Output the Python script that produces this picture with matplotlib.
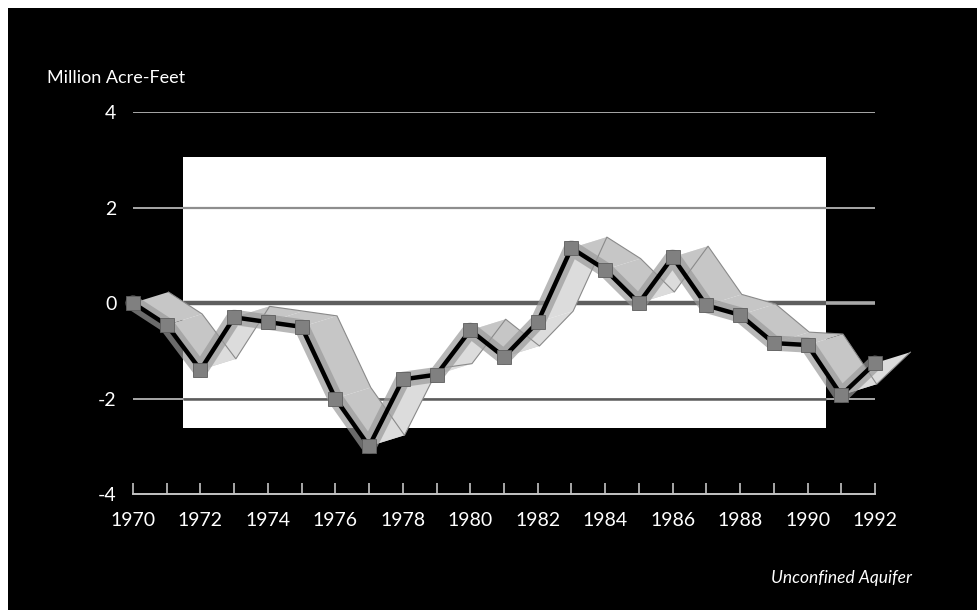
import numpy as np
import matplotlib.pyplot as plt
from matplotlib.patches import Rectangle, Polygon

plt.rcParams['font.family'] = ['Lato', 'DejaVu Sans']
plt.rcParams['axes.unicode_minus'] = False

years = list(range(1970, 1993))
storage = [0.0, -0.46, -1.4, -0.3, -0.4, -0.5, -2.0, -3.0, -1.6, -1.5, -0.57,
           -1.13, -0.4, 1.15, 0.7, 0.0, 0.96, -0.05, -0.25, -0.84, -0.88,
           -1.93, -1.26]
year_labels = [str(y) for y in range(1970, 1993, 2)]
y_levels = [-4, -2, 0, 2, 4]

fig = plt.figure(figsize=(9.77, 6.10), dpi=100, facecolor='white')
# black panel with a thin white margin on the top and left
fig.patches.append(Rectangle((8 / 977, 0), 1, 1 - 8 / 610, transform=fig.transFigure,
                             facecolor='black', edgecolor='none', zorder=-10))

ax = fig.add_axes([133 / 977, 1 - 494 / 610, (875 - 133) / 977, (494 - 112) / 610])
ax.set_facecolor('none')
ax.set_xlim(1970, 1992)
ax.set_ylim(-4, 4)

# white backdrop behind the middle of the chart
x0, x1 = 1971.48, 1990.55
ax.add_patch(Rectangle((x0, -2.62), x1 - x0, 5.68, facecolor='white',
                       edgecolor='none', zorder=0))

# grid: light on black, darker over the white backdrop
for lev in [4, 2, -2]:
    ax.axhline(lev, color='#a8a8a8', lw=1.4, zorder=1)
ax.axhline(0, color='#a8a8a8', lw=2.6, zorder=1)
ax.hlines(2, x0, x1, color='#8e8e8e', lw=1.6, zorder=1.2)
ax.hlines(-2, x0, x1, color='#5c5c5c', lw=1.8, zorder=1.2)
ax.hlines(0, x0, x1, color='#5e5e5e', lw=3.2, zorder=1.2)

# 3D ribbon behind the line
x = np.array(years, dtype=float)
y = np.array(storage)
dx, dy = 1.05, 0.23
for i in range(len(x) - 1):
    quad = [(x[i], y[i]), (x[i + 1], y[i + 1]),
            (x[i + 1] + dx, y[i + 1] + dy), (x[i] + dx, y[i] + dy)]
    shade = '#c6c6c6' if y[i + 1] < y[i] else '#dcdcdc'
    ax.add_patch(Polygon(quad, closed=True, facecolor=shade,
                         edgecolor='none', zorder=2, clip_on=False))
ax.plot(x + dx, y + dy, color='#8a8a8a', lw=0.8, zorder=2.5, clip_on=False)

ax.plot(x, y, color='#9a9a9a', lw=11, alpha=0.7, solid_capstyle='round',
        zorder=3, clip_on=False)
ax.plot(x, y, color='black', lw=3.2, zorder=4, clip_on=False)
ax.plot(x, y, linestyle='none', marker='s', markersize=10.5,
        markerfacecolor='#808080', markeredgecolor='#5e5e5e', markeredgewidth=0.6,
        zorder=5, clip_on=False)

for side in ['left', 'right', 'top']:
    ax.spines[side].set_visible(False)
ax.spines['bottom'].set_color('#c4c4c4')
ax.spines['bottom'].set_linewidth(1.4)

ax.set_xticks(range(1970, 1993, 2))
ax.set_xticklabels(year_labels)
ax.set_xticks(range(1971, 1993, 2), minor=True)
ax.tick_params(axis='x', which='both', direction='in', length=8, width=1.2,
               color='#c4c4c4', labelcolor='white', labelsize=14, pad=13)
ax.set_yticks(y_levels)
ax.set_yticklabels([str(v) for v in y_levels])
ax.tick_params(axis='y', length=0, labelcolor='white', labelsize=14, pad=12)

fig.text(47 / 977, 1 - 78 / 610, 'Million Acre-Feet', color='white',
         fontsize=13, va='center', ha='left')
fig.text(912 / 977, 1 - 578 / 610, 'Unconfined Aquifer', color='white',
         fontsize=12.5, style='italic', va='center', ha='right')

fig.savefig('out.png', dpi=100, facecolor=fig.get_facecolor())
